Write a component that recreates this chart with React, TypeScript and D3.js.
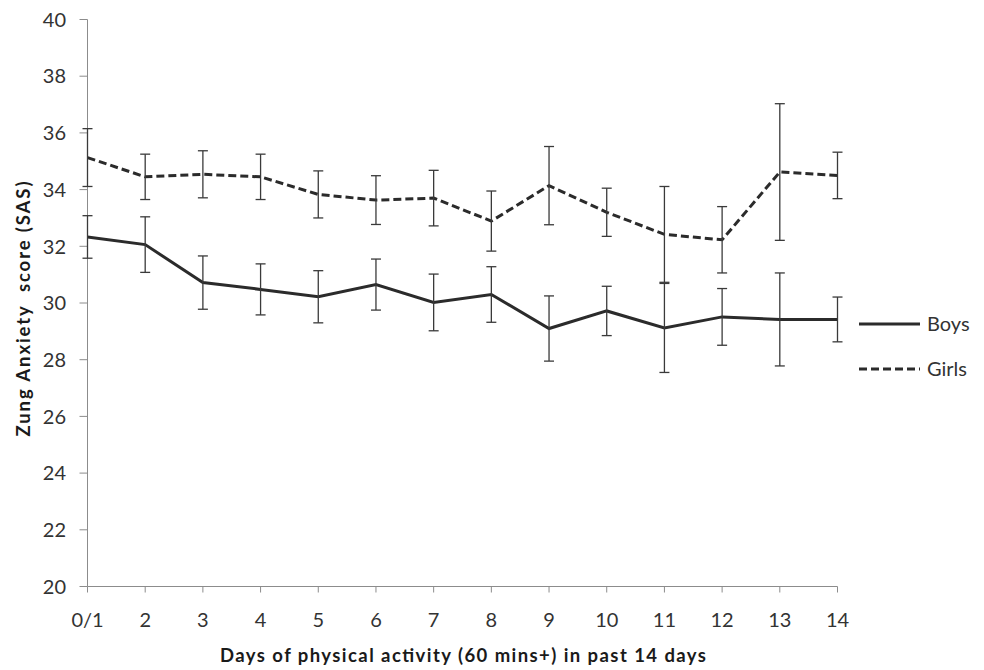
import React from "react";
import * as d3 from "d3";

const categories = ["0/1", "2", "3", "4", "5", "6", "7", "8", "9", "10", "11", "12", "13", "14"];
const boysMean = [32.33, 32.06, 30.72, 30.48, 30.22, 30.65, 30.02, 30.3, 29.1, 29.72, 29.12, 29.51, 29.42, 29.42];
const boysErr = [0.75, 0.98, 0.94, 0.9, 0.92, 0.9, 1.0, 0.98, 1.15, 0.87, 1.57, 1.0, 1.64, 0.79];
const girlsMean = [35.13, 34.45, 34.54, 34.45, 33.83, 33.63, 33.7, 32.89, 34.14, 33.2, 32.42, 32.23, 34.62, 34.5];
const girlsErr = [1.02, 0.8, 0.83, 0.8, 0.83, 0.86, 0.98, 1.06, 1.38, 0.85, 1.69, 1.17, 2.41, 0.82];
const yTicks = [20, 22, 24, 26, 28, 30, 32, 34, 36, 38, 40];

const W = 984;
const H = 670;
const left = 87.5;
const right = 837.5;
const top = 19.5;
const bottom = 586.5;
const font = "Lato, Carlito, Calibri, 'Open Sans', sans-serif";

export default function App() {
  const x = d3.scalePoint<string>().domain(categories).range([left, right]);
  const y = d3.scaleLinear().domain([20, 40]).range([bottom, top]);
  const line = d3
    .line<number>()
    .x((_, i) => x(categories[i]) as number)
    .y((d) => y(d));

  const series = [
    { name: "Boys", mean: boysMean, err: boysErr, dash: undefined as string | undefined },
    { name: "Girls", mean: girlsMean, err: girlsErr, dash: "8,4" },
  ];

  return (
    <div style={{ position: "absolute", left: 0, top: 0, width: W, height: H, background: "#fff" }}>
      <svg width={W} height={H} style={{ display: "block", fontFamily: font }}>
        <rect width={W} height={H} fill="#fff" />
        {/* Y axis */}
        <line x1={left} x2={left} y1={top} y2={bottom} stroke="#8c8c8c" strokeWidth={1} />
        {yTicks.map((t) => (
          <g key={t}>
            <line x1={left - 8} x2={left} y1={y(t)} y2={y(t)} stroke="#8c8c8c" strokeWidth={1} />
            <text x={66} y={y(t)} dy="0.36em" textAnchor="end" fontSize={20} fill="#333">
              {t}
            </text>
          </g>
        ))}
        {/* X axis */}
        <line x1={left} x2={right} y1={bottom} y2={bottom} stroke="#8c8c8c" strokeWidth={1} />
        {categories.map((c) => (
          <g key={c}>
            <line x1={x(c)} x2={x(c)} y1={bottom} y2={bottom + 6} stroke="#8c8c8c" strokeWidth={1} />
            <text x={x(c)} y={627} textAnchor="middle" fontSize={20} fill="#333">
              {c}
            </text>
          </g>
        ))}
        {/* Axis titles */}
        <text
          x={463}
          y={662}
          textAnchor="middle"
          fontSize={18.5}
          fontWeight="bold"
          fill="#1a1a1a"
          textLength={486}
          lengthAdjust="spacing"
        >
          Days of physical activity (60 mins+) in past 14 days
        </text>
        <text
          transform={`translate(30,${309}) rotate(-90)`}
          textAnchor="middle"
          fontSize={18.5}
          fontWeight="bold"
          fill="#1a1a1a"
          textLength={255}
          lengthAdjust="spacing"
          style={{ whiteSpace: "pre" }}
        >
          {"Zung Anxiety  score (SAS)"}
        </text>
        {/* Series lines */}
        {series.map((s) => (
          <path
            key={s.name}
            d={line(s.mean) || ""}
            fill="none"
            stroke="#2b2b2b"
            strokeWidth={3}
            strokeDasharray={s.dash}
          />
        ))}
        {/* Error bars */}
        {series.map((s) =>
          s.mean.map((m, i) => {
            const cx = x(categories[i]) as number;
            const y1 = y(m + s.err[i]);
            const y2 = y(m - s.err[i]);
            return (
              <g key={s.name + i} stroke="#3a3a3a" strokeWidth={1.3}>
                <line x1={cx} x2={cx} y1={y1} y2={y2} />
                <line x1={cx - 5} x2={cx + 5} y1={y1} y2={y1} />
                <line x1={cx - 5} x2={cx + 5} y1={y2} y2={y2} />
              </g>
            );
          })
        )}
        {/* Legend */}
        {series.map((s, i) => (
          <g key={"leg" + s.name} transform={`translate(0,${324 + i * 45})`}>
            <line x1={859} x2={920} y1={0} y2={0} stroke="#2b2b2b" strokeWidth={3} strokeDasharray={s.dash} />
            <text x={927} y={0} dy="0.36em" fontSize={20} fill="#333">
              {s.name}
            </text>
          </g>
        ))}
      </svg>
    </div>
  );
}
